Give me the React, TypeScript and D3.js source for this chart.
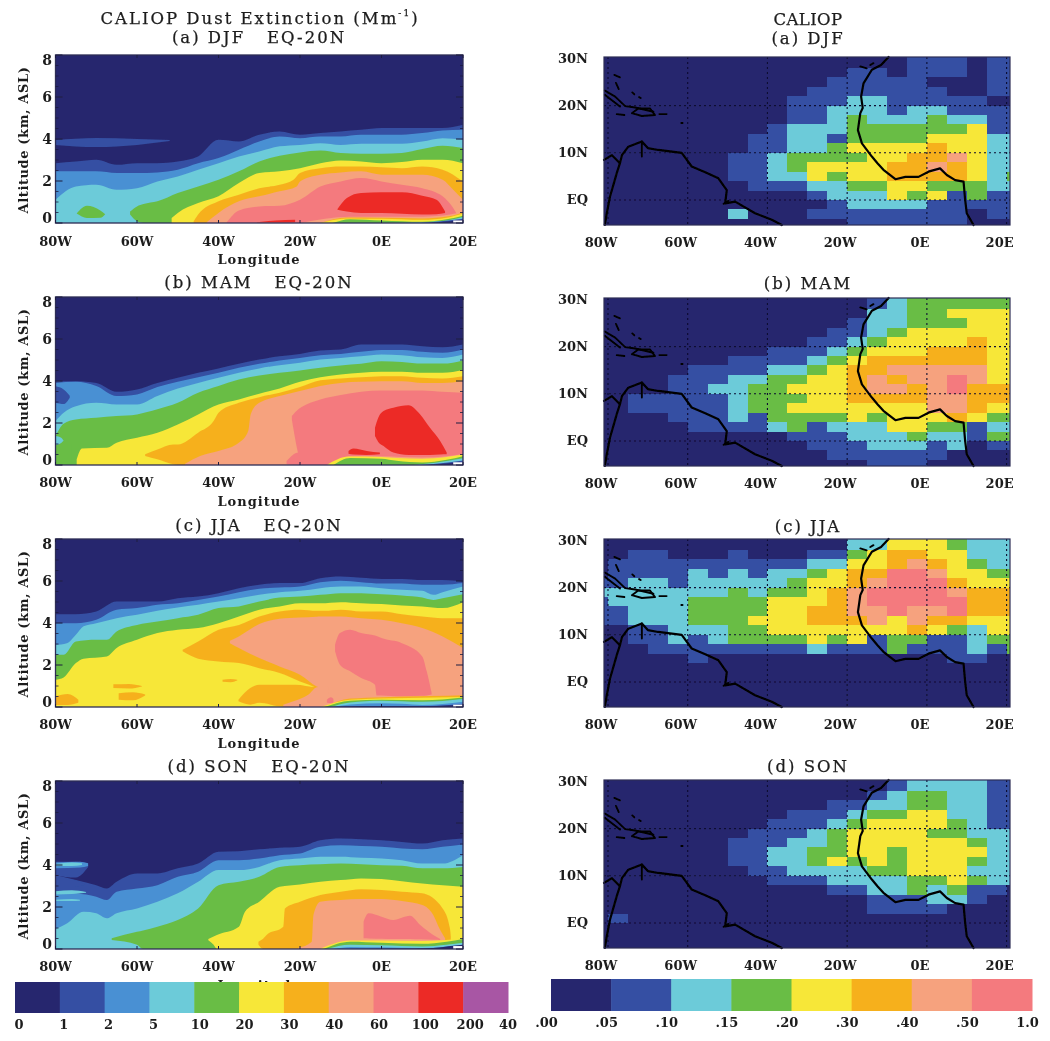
import React from 'react'
import * as d3 from 'd3'

// contour palette, index = band of the left colour bar (last one is the blank ground patch)
const extinctionColors = ['#28276e', '#3450a3', '#4a90d3', '#6ccbd9', '#69bd45', '#f7e737', '#f6b01f', '#f6a27e', '#f47a7e', '#ec2c25', '#a857a4', '#ffffff']
const extinctionLabels = ['0', '1', '2', '5', '10', '20', '30', '40', '60', '100', '200', '40']
const aodColors = ['#28276e', '#3450a3', '#6ccbd9', '#69bd45', '#f7e737', '#f6b01f', '#f6a27e', '#f47a7e']
const aodLabels = ['.00', '.05', '.10', '.15', '.20', '.30', '.40', '.50', '1.0']

const lonTicks = [-80, -60, -40, -20, 0, 20]
const lonLabels = ['80W', '60W', '40W', '20W', '0E', '20E']
const altTicks = [0, 2, 4, 6, 8]
const altMinor = [0.5, 1, 1.5, 2.5, 3, 3.5, 4.5, 5, 5.5, 6.5, 7, 7.5]
const latTicks = [30, 20, 10, 0]
const latLabels = ['30N', '20N', '10N', 'EQ']

const leftTitles = ['(a) DJF   EQ-20N', '(b) MAM   EQ-20N', '(c) JJA   EQ-20N', '(d) SON   EQ-20N']
const rightTitles = ['(a) DJF', '(b) MAM', '(c) JJA', '(d) SON']

// each band: [colour index, [lon, top km, bottom km (default 0)]...], painted in order
type Band = [number, number[][]]

const djfBands: Band[] = [
  [1, [[-80, 2.85], [-75, 2.93], [-70, 3.01], [-65, 2.77], [-60, 2.85], [-55, 2.85], [-50, 2.93], [-45, 3.17], [-40, 3.96], [-35, 3.88], [-30, 4.2], [-25, 4.36], [-20, 4.2], [-15, 4.28], [-10, 4.36], [-5, 4.44], [0, 4.52], [5, 4.52], [10, 4.52], [15, 4.52], [20, 4.68]]],
  [1, [[-80, 3.95, 3.72], [-70, 4.05, 3.62], [-60, 4.0, 3.72], [-52, 3.95, 3.9]]],
  [2, [[-80, 2.46], [-75, 2.46], [-70, 2.46], [-65, 2.38], [-60, 2.38], [-55, 2.41], [-50, 2.54], [-45, 2.85], [-40, 3.09], [-35, 3.49], [-30, 3.88], [-25, 4.12], [-20, 4.04], [-15, 4.12], [-10, 4.12], [-5, 4.2], [0, 4.2], [5, 4.2], [10, 4.28], [15, 4.41], [20, 4.44]]],
  [3, [[-80, 1.11], [-75, 1.74], [-70, 1.82], [-65, 1.58], [-60, 1.66], [-55, 1.98], [-50, 2.22], [-45, 2.54], [-40, 2.85], [-35, 3.17], [-30, 3.41], [-25, 3.65], [-20, 3.72], [-15, 3.8], [-10, 3.72], [-5, 3.77], [0, 3.77], [5, 3.77], [10, 3.88], [15, 4.04], [20, 3.96]]],
  [4, [[-74.8, 0.45, 0.45], [-72.3, 0.82, 0.24], [-69, 0.6, 0.25], [-67.8, 0.42, 0.42]]],
  [4, [[-61.7, 0.55, 0.4], [-60, 0.79, 0.08], [-58.4, 0.9, 0], [-55, 1.03], [-50, 1.43], [-45, 1.74], [-40, 2.06], [-35, 2.46], [-30, 2.93], [-25, 3.2], [-20, 3.36], [-15, 3.45], [-10, 3.33], [-5, 3.3], [0, 3.3], [5, 3.33], [10, 3.52], [15, 3.68], [20, 3.57]]],
  [5, [[-51.5, 0.24], [-50, 0.48], [-45, 0.95], [-40, 1.27], [-35, 1.9], [-30, 2.38], [-25, 2.46], [-20, 2.61], [-15, 2.85], [-10, 2.98], [-5, 2.93], [0, 2.85], [5, 2.9], [10, 3.01], [15, 3.01], [20, 2.85]]],
  [6, [[-46.1, 0.08], [-45, 0.4], [-40, 1.03], [-35, 1.35], [-30, 1.66], [-25, 1.82], [-21.6, 2.06], [-20, 2.38], [-15, 2.61], [-10, 2.69], [-5, 2.69], [0, 2.65], [5, 2.61], [10, 2.69], [15, 2.54], [20, 1.98]]],
  [7, [[-42.9, 0.03], [-40, 0.48], [-35, 1.03], [-30, 1.27], [-25, 1.51], [-20.8, 1.74], [-20, 1.98], [-15, 2.3], [-10, 2.41], [-5, 2.46], [0, 2.3], [5, 2.3], [10, 2.3], [15, 2.06], [17.6, 1.58], [20, 1.11]]],
  [8, [[-38, 0.03], [-35, 0.6], [-30, 0.79], [-25, 0.82], [-20, 1.11], [-15, 1.74], [-10, 1.98], [-5, 2.14], [0, 1.98], [5, 1.82], [10, 1.66], [15, 1.27], [17.6, 0.71], [18.8, 0.32]]],
  [9, [[-10.8, 0.67, 0.63], [-8.5, 1.19, 0.55], [-5, 1.43, 0.48], [0, 1.46, 0.48], [5, 1.46, 0.44], [10, 1.3, 0.4], [13.5, 1.11, 0.42], [15.6, 0.55, 0.48]]],
  [9, [[-30.6, 0.03, 0.02], [-26, 0.12, 0.02], [-21.2, 0.15, 0.03]]],
  [7, [[-20, 0], [-7.7, 0.3], [0, 0.3], [10, 0.3], [16.8, 0.4], [20, 0.55]]],
  [6, [[-15, 0], [-8.5, 0.26], [0, 0.25], [10, 0.22], [16.8, 0.33], [20, 0.5]]],
  [5, [[-15.1, 0], [-8.5, 0.22], [0, 0.2], [10, 0.15], [16, 0.25], [20, 0.45]]],
  [4, [[-12, 0], [-7.7, 0.18], [0, 0.12], [10, 0.06], [16, 0.18], [20, 0.35]]],
  [3, [[-0.4, 0], [11, 0.04], [17, 0.15], [20, 0.28]]],
  [1, [[9.5, 0], [12.7, 0.05], [20, 0.2]]],
  [0, [[11.9, 0], [17.6, 0.1], [20, 0.15]]],
  [11, [[17.6, 0.12], [20, 0.12]]],
]

const mamBands: Band[] = [
  [1, [[-80, 3.99], [-75, 3.99], [-70, 3.91], [-65, 3.49], [-60, 3.6], [-55, 3.91], [-50, 4.15], [-45, 4.39], [-40, 4.6], [-35, 4.82], [-30, 5.02], [-25, 5.18], [-20, 5.29], [-15, 5.45], [-10, 5.5], [-5, 5.74], [0, 5.74], [5, 5.74], [10, 5.66], [15, 5.61], [20, 5.74]]],
  [2, [[-80, 3.91], [-75, 3.96], [-70, 3.76], [-65, 3.28], [-60, 3.36], [-55, 3.71], [-50, 3.96], [-45, 4.18], [-40, 4.39], [-35, 4.63], [-30, 4.82], [-25, 4.98], [-20, 5.1], [-15, 5.23], [-10, 5.29], [-5, 5.39], [0, 5.48], [5, 5.48], [10, 5.39], [15, 5.34], [20, 5.5]]],
  [1, [[-80, 3.75, 2.96], [-78, 3.6, 2.9], [-76.5, 3.3, 3.2]]],
  [3, [[-80, 2.09], [-78, 2.49], [-75, 2.8], [-70, 2.96], [-65, 2.88], [-60, 2.88], [-55, 3.28], [-50, 3.64], [-45, 3.91], [-40, 4.15], [-35, 4.39], [-30, 4.6], [-25, 4.75], [-20, 4.87], [-15, 5.02], [-10, 5.1], [-5, 5.18], [0, 5.26], [5, 5.23], [10, 5.13], [15, 5.1], [20, 5.26]]],
  [4, [[-80, 1.38], [-78, 1.97], [-75, 2.17], [-70, 2.25], [-65, 2.33], [-60, 2.41], [-55, 2.65], [-50, 2.96], [-45, 3.44], [-40, 3.76], [-35, 4.07], [-30, 4.26], [-25, 4.39], [-20, 4.5], [-15, 4.63], [-10, 4.74], [-5, 4.82], [0, 4.94], [5, 4.91], [10, 4.83], [15, 4.83], [20, 4.98]]],
  [4, [[-80, 1.0], [-78, 1.0], [-76, 1.0]]],
  [3, [[-80, 1.38, 0.95], [-78.6, 1.3, 1.05], [-78, 1.15, 1.15]]],
  [5, [[-74.8, 0.27], [-73.5, 0.79], [-67.4, 0.82], [-65, 1.06], [-60, 1.3], [-55, 1.54], [-50, 1.93], [-45, 2.41], [-40, 2.88], [-35, 3.12], [-30, 3.39], [-25, 3.64], [-20, 3.96], [-15, 4.18], [-10, 4.31], [-5, 4.39], [0, 4.44], [5, 4.44], [10, 4.39], [15, 4.39], [20, 4.52]]],
  [6, [[-58, 0.51, 0.43], [-55, 0.74, 0.27], [-51.1, 0.98, 0.03], [-50, 0.98], [-45, 1.54], [-41.2, 2.09], [-40, 2.49], [-35, 2.96], [-30, 3.23], [-25, 3.44], [-20, 3.71], [-15, 4.03], [-10, 4.12], [-5, 4.18], [0, 4.23], [5, 4.23], [10, 4.15], [15, 4.12], [20, 4.23]]],
  [7, [[-48.2, 0.06], [-44.5, 0.43], [-40, 0.67], [-35, 1.06], [-32.7, 1.62], [-32.1, 2.41], [-30, 2.96], [-25, 3.28], [-20, 3.52], [-15, 3.76], [-10, 3.91], [-5, 3.96], [0, 3.99], [5, 3.99], [10, 3.91], [15, 3.91], [20, 3.99]]],
  [8, [[-23.3, 0.19, 0.03], [-20.4, 0.6], [-19.6, 0.6]]],
  [8, [[-22, 2.33, 2.17], [-20.4, 2.65, 0.51], [-19.6, 2.76], [-15, 3.12], [-10, 3.33], [-5, 3.49], [0, 3.55], [5, 3.55], [10, 3.55], [15, 3.49], [20, 3.44]]],
  [9, [[-1.6, 1.77, 1.38], [-0.8, 2.25, 1.1], [0.5, 2.57, 0.9], [2.9, 2.73, 0.59], [6.6, 2.85, 0.48], [9.5, 2.41, 0.48], [11.9, 1.77, 0.48], [14.4, 1.14, 0.5], [16, 0.59, 0.51]]],
  [9, [[-8.1, 0.67, 0.54], [-6.9, 0.79, 0.5], [-3.6, 0.67, 0.48], [-0.4, 0.59, 0.51]]],
  [7, [[-12, 0], [-7.7, 0.42], [0, 0.42], [10, 0.36], [16, 0.42], [20, 0.52]]],
  [5, [[-13.4, 0], [-8.1, 0.4], [0, 0.38], [3.7, 0.33], [10, 0.3], [16, 0.38], [20, 0.5]]],
  [4, [[-11.8, 0], [-7.7, 0.33], [0, 0.3], [3.7, 0.2], [10, 0.12], [16, 0.25], [20, 0.42]]],
  [3, [[7.8, 0], [12.7, 0.1], [20, 0.32]]],
  [1, [[9.5, 0], [12.7, 0.05], [20, 0.22]]],
  [0, [[11.5, 0], [17.6, 0.1], [20, 0.12]]],
  [11, [[17.6, 0.13], [20, 0.13]]],
]

const jjaBands: Band[] = [
  [1, [[-80, 4.42], [-75, 4.42], [-70, 4.55], [-65, 5.02], [-60, 5.02], [-55, 5.02], [-50, 5.18], [-45, 5.26], [-40, 5.42], [-35, 5.66], [-30, 5.82], [-25, 5.9], [-20, 5.9], [-15, 6.13], [-10, 6.21], [-5, 6.16], [0, 6.1], [5, 6.1], [10, 6.05], [15, 6.05], [20, 5.97]]],
  [2, [[-80, 3.99], [-75, 3.99], [-70, 4.15], [-65, 4.63], [-60, 4.71], [-55, 4.87], [-50, 4.94], [-45, 5.1], [-40, 5.26], [-35, 5.47], [-30, 5.63], [-25, 5.69], [-20, 5.74], [-15, 5.94], [-10, 6.01], [-5, 5.94], [0, 5.88], [5, 5.88], [10, 5.82], [15, 5.82], [20, 5.9]]],
  [3, [[-80, 2.96], [-77.2, 3.04], [-75, 3.44], [-73.1, 3.84], [-70, 3.99], [-65, 4.23], [-60, 4.39], [-55, 4.58], [-50, 4.74], [-45, 4.87], [-40, 5.02], [-35, 5.18], [-30, 5.34], [-25, 5.47], [-20, 5.53], [-15, 5.66], [-10, 5.74], [-5, 5.74], [0, 5.66], [5, 5.58], [10, 5.53], [12.7, 5.34], [15, 5.47], [20, 5.74]]],
  [4, [[-80, 2.49], [-78, 2.49], [-75, 3.12], [-70, 3.2], [-67.4, 3.2], [-65, 3.6], [-60, 3.91], [-55, 4.07], [-50, 4.23], [-45, 4.39], [-40, 4.71], [-35, 4.79], [-30, 5.02], [-25, 5.21], [-20, 5.26], [-15, 5.34], [-10, 5.42], [-5, 5.42], [0, 5.37], [5, 5.31], [10, 5.21], [12.7, 5.1], [15, 5.18], [20, 5.37]]],
  [5, [[-80, 1.3], [-78, 1.41], [-75, 2.09], [-73.1, 2.3], [-67.4, 2.41], [-65, 2.81], [-60, 3.2], [-55, 3.52], [-50, 3.68], [-45, 3.76], [-40, 3.99], [-35, 4.31], [-30, 4.63], [-25, 4.79], [-20, 4.94], [-15, 4.94], [-10, 4.99], [-5, 4.94], [0, 4.9], [5, 4.83], [10, 4.79], [15, 4.71], [20, 4.99]]],
  [6, [[-80, 0.51, 0.1], [-77, 0.62, 0.1], [-74.4, 0.35, 0.2]]],
  [6, [[-65.8, 1.08, 0.9], [-62, 1.1, 0.88], [-58.8, 1.0, 0.98]]],
  [6, [[-64.5, 0.65, 0.35], [-61, 0.7, 0.32], [-58, 0.6, 0.55]]],
  [6, [[-39, 1.3, 1.2], [-37, 1.33, 1.18], [-35.4, 1.3, 1.26]]],
  [6, [[-48.8, 2.73, 2.65], [-45, 3.12, 2.3], [-40, 3.68, 2.17], [-35, 3.91, 2.09], [-30, 4.31, 1.85], [-25, 4.55, 1.62], [-20, 4.63, 1.22], [-15.9, 4.58, 0.9], [-15, 4.58, 0.8], [-14, 4.58], [-10, 4.63], [-5, 4.55], [0, 4.55], [5, 4.42], [10, 4.31], [15, 4.23], [20, 4.23]]],
  [6, [[-35.1, 0.35, 0.27], [-32.2, 0.9, 0.11], [-30, 1.06, 0.2], [-25, 1.06, 0.03], [-21.2, 1.06], [-15.9, 0.95], [-13, 0.95]]],
  [7, [[-37.2, 3.15, 3.04], [-35, 3.36, 2.81], [-30, 3.95, 2.33], [-25, 4.2, 1.93], [-20, 4.26, 1.54], [-15.9, 4.3, 0.98], [-15, 4.31, 0.9], [-14, 4.31], [-10, 4.31], [-5, 4.23], [0, 4.15], [5, 3.99], [10, 3.76], [15, 3.36], [20, 2.81]]],
  [7, [[-24.1, 0.11], [-21.6, 0.27], [-17.9, 0.59], [-15.9, 0.94], [-13, 1.0]]],
  [8, [[-11.4, 2.96, 2.65], [-10.2, 3.52, 2.01], [-7.7, 3.68, 1.7], [-5, 3.52, 1.38], [-1.6, 3.4, 1.06], [-1.2, 3.38, 0.55], [0, 3.28, 0.55], [5, 3.04, 0.51], [10, 2.41, 0.53], [11.1, 1.7, 0.55], [12.3, 0.67, 0.59]]],
  [8, [[-13.4, 0.35, 0.2], [-12.4, 0.46, 0.18], [-11.8, 0.38, 0.22]]],
  [6, [[-14, 0], [-7.7, 0.4], [0, 0.47], [12, 0.52], [20, 0.56]]],
  [5, [[-15, 0], [-7.7, 0.35], [0, 0.4], [20, 0.48]]],
  [4, [[-14, 0], [-7.7, 0.3], [0, 0.35], [10, 0.32], [20, 0.45]]],
  [3, [[-12.6, 0], [-7.7, 0.22], [0, 0.3], [10, 0.25], [20, 0.38]]],
  [2, [[-11.8, 0], [-7.7, 0.12], [0, 0.18], [5, 0.15], [10, 0.1], [20, 0.25]]],
  [1, [[-10.2, 0], [0, 0.05], [9.5, 0.03], [20, 0.15]]],
  [0, [[-15, 0], [-5, 0.03], [9.5, 0.03], [17.6, 0.08]]],
  [11, [[17.6, 0.11], [20, 0.11]]],
]

const sonBands: Band[] = [
  [1, [[-80, 3.52], [-75, 3.28], [-70, 3.04], [-67.4, 2.88], [-65, 3.2], [-60, 3.6], [-55, 3.6], [-50, 3.84], [-45, 4.07], [-40, 4.63], [-35, 4.66], [-30, 4.75], [-25, 4.82], [-20, 4.87], [-15, 5.18], [-10, 5.26], [-5, 5.23], [0, 5.18], [5, 5.1], [10, 5.02], [15, 5.18], [20, 5.26]]],
  [1, [[-80, 4.15, 3.5], [-75, 4.15, 3.4], [-72, 4.0, 3.9]]],
  [2, [[-80, 2.73], [-75, 2.65], [-70, 2.49], [-67.4, 2.33], [-65, 2.73], [-60, 2.88], [-55, 3.04], [-50, 3.44], [-45, 3.68], [-40, 4.23], [-35, 4.23], [-30, 4.31], [-25, 4.47], [-20, 4.55], [-15, 4.87], [-10, 4.94], [-5, 4.91], [0, 4.87], [5, 4.79], [10, 4.75], [15, 4.87], [20, 4.98]]],
  [2, [[-80, 4.12, 3.85], [-74, 4.15, 3.88], [-72, 4.08, 3.95]]],
  [3, [[-80, 4.05, 3.95], [-76, 4.12, 3.95], [-73.5, 4.08, 4.0]]],
  [1, [[-80, 3.3, 2.95], [-76, 3.3, 2.95], [-73, 3.1, 3.05]]],
  [3, [[-80, 2.75, 2.6], [-76, 2.8, 2.62], [-72.5, 2.72, 2.68]]],
  [3, [[-80, 2.35, 2.28], [-76, 2.38, 2.28], [-74, 2.35, 2.3]]],
  [3, [[-80, 0.95], [-77.2, 1.22], [-73.1, 1.77], [-70, 1.7], [-67.4, 1.46], [-65, 1.7], [-60, 1.93], [-55, 2.25], [-50, 2.65], [-45, 3.2], [-40, 3.76], [-35, 3.76], [-30, 3.91], [-25, 4.23], [-20, 4.31], [-15, 4.39], [-10, 4.39], [-5, 4.34], [0, 4.31], [5, 4.23], [10, 4.07], [15, 4.07], [20, 4.47]]],
  [4, [[-66.2, 0.51, 0.43], [-60, 0.82, 0.2], [-58.5, 0.88, 0], [-55, 1.06], [-50, 1.38], [-45, 1.93], [-40, 3.04], [-35, 3.2], [-30, 3.44], [-25, 3.91], [-20, 3.99], [-15, 4.03], [-10, 4.07], [-5, 4.03], [0, 3.99], [5, 3.96], [10, 3.84], [15, 3.84], [20, 3.91]]],
  [5, [[-42.5, 0.48, 0.42], [-41.2, 0.6, 0.2], [-40.4, 0.67, 0], [-35, 1.06], [-33.5, 1.77], [-30, 2.25], [-25, 2.96], [-20, 3.07], [-15, 3.2], [-10, 3.28], [-5, 3.36], [0, 3.33], [5, 3.23], [10, 3.12], [15, 3.04], [20, 2.96]]],
  [6, [[-30.2, 0.35, 0.2], [-29, 0.5, 0], [-28.2, 0.67], [-24.1, 1.06], [-23.7, 1.93], [-20, 2.25], [-15, 2.57], [-10, 2.73], [-5, 2.85], [0, 2.81], [5, 2.73], [10, 2.65], [15, 1.93], [16.8, 0.98], [17, 0.6, 0.5]]],
  [7, [[-20.4, 0.06], [-17.1, 0.35], [-16.7, 1.62], [-15, 2.25], [-10, 2.33], [-5, 2.38], [0, 2.38], [5, 2.28], [10, 2.09], [12.7, 1.62], [14.4, 0.9], [15.6, 0.51]]],
  [8, [[-4.4, 1.3, 0.51], [-3.2, 1.7, 0.5], [0, 1.54, 0.49], [2.9, 1.38, 0.48], [7, 1.58, 0.48], [9.5, 1.14, 0.46], [12.7, 0.67, 0.44], [14.4, 0.48, 0.43]]],
  [5, [[-15.1, 0], [-7.7, 0.4], [0, 0.4], [10, 0.38], [20, 0.5]]],
  [4, [[-14.3, 0], [-7.7, 0.35], [0, 0.3], [10, 0.25], [16, 0.35], [20, 0.48]]],
  [3, [[-13.4, 0], [-7.7, 0.2], [0, 0.18], [10, 0.12], [16, 0.2], [20, 0.3]]],
  [2, [[-11.8, 0], [-7.7, 0.1], [0, 0.08], [10, 0.05], [20, 0.2]]],
  [0, [[-14.3, 0], [3.7, 0.02], [12.7, 0.05], [17.6, 0.15], [20, 0.2]]],
  [11, [[17.6, 0.14], [20, 0.14]]],
]

// one char per 5x2 degree cell, rows from 30N down, first and last columns are the clipped edge cells
const gridLonStart = -85
const gridLatStart = 30
const djfGrid = [
  '0000000000000000111011',
  '0000000000000110111011',
  '0000000000001111100011',
  '0000000000011111110011',
  '0000000000111221111100',
  '0000000000112221221111',
  '0000000000112322232211',
  '0000000001222333333411',
  '0000000011221333344422',
  '0000000011223444454422',
  '0000000112333344556422',
  '0000000112344445565422',
  '0000000112243445555423',
  '0000000011122334433322',
  '0000000000012224341311',
  '0000000000001222211111',
  '0000000200011111111011',
  '0000000000000111111000',
]
const mamGrid = [
  '0000000000000012333333',
  '0000000000000022334444',
  '0000000000000122333444',
  '0000000000001123444444',
  '0000000000011234444544',
  '0000000001112344455544',
  '0000000111123455555544',
  '0000011112234556666644',
  '0000111223344565667644',
  '0000112233444566567555',
  '0011111233344555566555',
  '0011111233444444466544',
  '0000111213333434445433',
  '0000011112312224433122',
  '0000000000111222322133',
  '0000000000011122212011',
  '0000000000001111110000',
  '0000000000000011100000',
]
const jjaGrid = [
  '0000000000000224443222',
  '0011000100011345544222',
  '0111111111122445654322',
  '0111121212234557764433',
  '1122122222344567775444',
  '2222222323345677776555',
  '1222233334445677777555',
  '1122233334455667667555',
  '1122233344455564655444',
  '0011222334444444543244',
  '0011212333343413311233',
  '0001111111121113111213',
  '0000010000000000001100',
  '0000000000000000000000',
  '0000000000000000000000',
  '0000000000000000000000',
  '0000000000000000000000',
  '0000000000000000000000',
]
const sonGrid = [
  '0000000000000001222211',
  '0000000000000012332211',
  '0000000000001122332211',
  '0000000000111233442211',
  '0000000001112344443211',
  '0000000011123444433222',
  '0000000111223444444322',
  '0000000112233443444422',
  '0000000112234343444322',
  '0000000011222233444222',
  '0000000001112222334322',
  '0000000000001122323110',
  '0000000000000011122100',
  '0000000000000011110000',
  '0100000000000000000000',
  '0000000000000000000000',
  '0000000000000000000000',
  '0000000000000000000000',
]

// coast outlines, lon/lat
const coastAfrica = [[-9.6, 30.4], [-11.5, 28.6], [-13.8, 27.6], [-15.9, 24.7], [-16.5, 21.9], [-16.1, 19.5], [-16.7, 18.4], [-17.3, 14.8], [-16.3, 12], [-13.8, 9.2], [-12.4, 7.8], [-10.9, 6.4], [-7.9, 4.4], [-5.4, 4.9], [-2.1, 4.9], [0.4, 6], [3.3, 6.7], [5, 5.3], [7.1, 4.2], [9.2, 3.9], [9.6, 0], [10, -2.8], [11.7, -5.4]]
const coastSouthAmerica = [[-81, 8.5], [-79, 9.5], [-77, 7.8], [-76.5, 9.5], [-74.9, 11.3], [-71.5, 12.4], [-70, 11], [-67.4, 10.6], [-61.5, 10], [-59, 7.1], [-55.6, 5.9], [-52.3, 4.6], [-50.2, 2.1], [-50.6, -0.7], [-48.1, -0.35], [-43.1, -2.8], [-38.9, -4.2], [-36.4, -5.4]]
const coastPacific = [[-77, 7.8], [-77.8, 5.7], [-79.5, 0.7], [-80.3, -2.8], [-80.8, -5.4]]
const islands = [
  [[-80.8, 23.2], [-78.2, 21.9], [-75.7, 19.9], [-73.2, 19.6], [-68.6, 18.7]],
  [[-80.8, 22.3], [-77, 19.8]],
  [[-77.8, 18.2], [-75.9, 18]],
  [[-74, 18.4], [-72.4, 19.4], [-69.5, 19.4], [-68.2, 18], [-71.5, 17.8], [-74, 18.4]],
  [[-67.1, 18.2], [-65.3, 18.2]],
  [[-78.4, 26.5], [-77, 26]],
  [[-78, 24.8], [-77.3, 23.5]],
  [[-73.9, 22.8], [-73.4, 22.4]],
  [[-72.2, 21.8], [-71.8, 21.6]],
  [[-61.6, 16.3], [-61.3, 16.3]],
  [[-71.5, 12.4], [-71.5, 9.2]],
  [[-16.7, 28.3], [-15.1, 27.9]],
  [[-14.2, 28.6], [-13.4, 29]],
  [[-51, -0.8], [-49.8, -0.2]],
]

const SERIF = '"DejaVu Serif", serif'
const INK = '#1c1c1c'

function Title({ x, y, spacing = 2, children }: any) {
  return (
    <text x={x} y={y} textAnchor="middle" dominantBaseline="central" fontSize={16.5}
      letterSpacing={spacing} stroke={INK} strokeWidth={0.25} style={{ whiteSpace: 'pre' }}>{children}</text>
  )
}

function LeftPanel({ top, bottom, title, titleY, tickY, bands }: any) {
  const x = d3.scaleLinear().domain([-80, 20]).range([55.5, 463])
  const y = d3.scaleLinear().domain([0, 8]).range([bottom, top])
  const area = d3.area<number[]>()
    .x(d => x(d[0]))
    .y0(d => y(d[2] ?? 0))
    .y1(d => y(d[1]))
    .curve(d3.curveMonotoneX)
  const [x0, x1] = x.range()
  return (
    <g>
      <Title x={259} y={titleY}>{title}</Title>
      <rect x={x0} y={top} width={x1 - x0} height={bottom - top} fill={extinctionColors[0]} />
      {bands.map((b: Band, i: number) => (
        <path key={i} d={area(b[1]) as string} fill={extinctionColors[b[0]]} />
      ))}
      <rect x={x0} y={top} width={x1 - x0} height={bottom - top} fill="none" stroke="#2d2d55" strokeWidth={1.3} />
      {altMinor.map(t => (
        <g key={t} stroke="#1d1d3f" strokeWidth={0.8}>
          <line x1={x0} x2={x0 + 3} y1={y(t)} y2={y(t)} />
          <line x1={x1} x2={x1 - 3} y1={y(t)} y2={y(t)} />
        </g>
      ))}
      {altTicks.map(t => (
        <g key={t}>
          <line x1={x0} x2={x0 + 7} y1={y(t)} y2={y(t)} stroke="#1d1d3f" />
          <line x1={x1} x2={x1 - 7} y1={y(t)} y2={y(t)} stroke="#1d1d3f" />
          <text x={47} y={y(t) + (t === 0 ? -5 : t === 8 ? 5 : 0)} textAnchor="middle" dominantBaseline="central" fontSize={14} fontWeight="bold">{t}</text>
        </g>
      ))}
      {lonTicks.map((t, i) => (
        <g key={t}>
          <line x1={x(t)} x2={x(t)} y1={bottom} y2={bottom - 3} stroke="#1d1d3f" />
          <line x1={x(t)} x2={x(t)} y1={top} y2={top + 3} stroke="#1d1d3f" />
          <text x={x(t)} y={tickY} textAnchor="middle" dominantBaseline="central" fontSize={13} fontWeight="bold">{lonLabels[i]}</text>
        </g>
      ))}
      <text x={259} y={bottom + 36} textAnchor="middle" dominantBaseline="central" fontSize={13} fontWeight="bold" letterSpacing={1}>Longitude</text>
      <text transform={`translate(23,${(top + bottom) / 2 + 1}) rotate(-90)`} textAnchor="middle" dominantBaseline="central" fontSize={13} fontWeight="bold" letterSpacing={0.6}>Altitude (km, ASL)</text>
    </g>
  )
}

function RightPanel({ top, bottom, title, titleY, tickY, grid }: any) {
  const x = d3.scaleLinear().domain([-81, 20.85]).range([604, 1010]).clamp(true)
  const y = d3.scaleLinear().domain([-5.3, 30.3]).range([bottom, top]).clamp(true)
  const path = d3.line<number[]>().x(d => x(d[0])).y(d => y(d[1]))
  return (
    <g>
      <Title x={808} y={titleY}>{title}</Title>
      <rect x={604} y={top} width={406} height={bottom - top} fill={aodColors[0]} />
      {grid.map((row: string, r: number) =>
        Array.from(row).map((c, k) => {
          const lon = gridLonStart + k * 5
          const lat = gridLatStart - r * 2
          const cx = x(lon)
          const cy = y(lat + (r === 0 ? 2 : 0))
          return (
            <rect key={`${r}-${k}`} x={cx} y={cy} width={x(lon + 5) - cx} height={y(lat - 2) - cy} fill={aodColors[+c]} shapeRendering="crispEdges" />
          )
        })
      )}
      <g stroke="#0c0c30" strokeWidth={1.1} strokeDasharray="2 3" fill="none">
        {lonTicks.map(t => <line key={t} x1={x(t)} x2={x(t)} y1={top} y2={bottom} />)}
        {latTicks.slice(1).map(t => <line key={t} x1={604} x2={1010} y1={y(t)} y2={y(t)} />)}
      </g>
      <g fill="none" stroke="#000" strokeLinejoin="round" strokeLinecap="round">
        <path d={path(coastAfrica) as string} strokeWidth={2.2} />
        <path d={path(coastSouthAmerica) as string} strokeWidth={2.2} />
        <path d={path(coastPacific) as string} strokeWidth={2.2} />
        {islands.map((d, i) => <path key={i} d={path(d) as string} strokeWidth={1.9} />)}
      </g>
      <rect x={604} y={top} width={406} height={bottom - top} fill="none" stroke="#2d2d55" strokeWidth={1.2} />
      {latTicks.map((t, i) => (
        <text key={t} x={588} y={y(t)} textAnchor="end" dominantBaseline="central" fontSize={13} fontWeight="bold">{latLabels[i]}</text>
      ))}
      {lonTicks.map((t, i) => (
        <text key={t} x={x(t) - 7} y={tickY} textAnchor="middle" dominantBaseline="central" fontSize={13} fontWeight="bold">{lonLabels[i]}</text>
      ))}
    </g>
  )
}

function ColorBar({ colors, labels, x0, x1, y0, y1, textY, labelX }: any) {
  const band = d3.scaleLinear().domain([0, colors.length]).range([x0, x1])
  return (
    <g>
      {colors.map((c: string, i: number) => (
        <rect key={i} x={band(i)} y={y0} width={band(i + 1) - band(i) + 0.5} height={y1 - y0} fill={c} />
      ))}
      {labels.map((l: string, i: number) => (
        <text key={i} x={labelX(band(i), l, i)} y={textY} textAnchor="middle" dominantBaseline="central" fontSize={13} fontWeight="bold">{l}</text>
      ))}
    </g>
  )
}

const leftTops = [55, 297, 539, 781]
const leftTitleY = [37, 282, 525, 766]
const leftTickY = [241, 482, 724, 966]
const rightTops = [57, 298, 539, 780]
const rightTitleY = [38, 283, 526, 766]
const rightTickY = [242, 483, 724, 965]

export default function App() {
  const bandsBySeason = [djfBands, mamBands, jjaBands, sonBands]
  const gridsBySeason = [djfGrid, mamGrid, jjaGrid, sonGrid]
  return (
    <svg width={1050} height={1041} viewBox="0 0 1050 1041" fontFamily={SERIF} fill={INK}
      style={{ position: 'absolute', left: 0, top: 0, background: '#fff' }}>
      <defs>
        <filter id="soft" x="0" y="0" width="100%" height="100%">
          <feGaussianBlur stdDeviation={0.45} />
        </filter>
      </defs>
      <g filter="url(#soft)">
        <Title x={260} y={18}>
          CALIOP Dust Extinction (Mm<tspan dy={-5} fontSize={9}>-1</tspan><tspan dy={5}>)</tspan>
        </Title>
        <Title x={808} y={19} spacing={0.4}>CALIOP</Title>
        {leftTitles.map((t, i) => (
          <LeftPanel key={t} top={leftTops[i]} bottom={leftTops[i] + 168} title={t} titleY={leftTitleY[i]} tickY={leftTickY[i]} bands={bandsBySeason[i]} />
        ))}
        {rightTitles.map((t, i) => (
          <RightPanel key={t} top={rightTops[i]} bottom={rightTops[i] + 168} title={t} titleY={rightTitleY[i]} tickY={rightTickY[i]} grid={gridsBySeason[i]} />
        ))}
        <ColorBar colors={extinctionColors.slice(0, 11)} labels={extinctionLabels} x0={15} x1={508} y0={982} y1={1013} textY={1024}
          labelX={(e: number, l: string, i: number) => (i === 11 ? e : e + 2.5 + l.length * 1.5)} />
        <ColorBar colors={aodColors} labels={aodLabels} x0={551} x1={1032} y0={979} y1={1011} textY={1022}
          labelX={(e: number) => e - 4.5} />
      </g>
    </svg>
  )
}
